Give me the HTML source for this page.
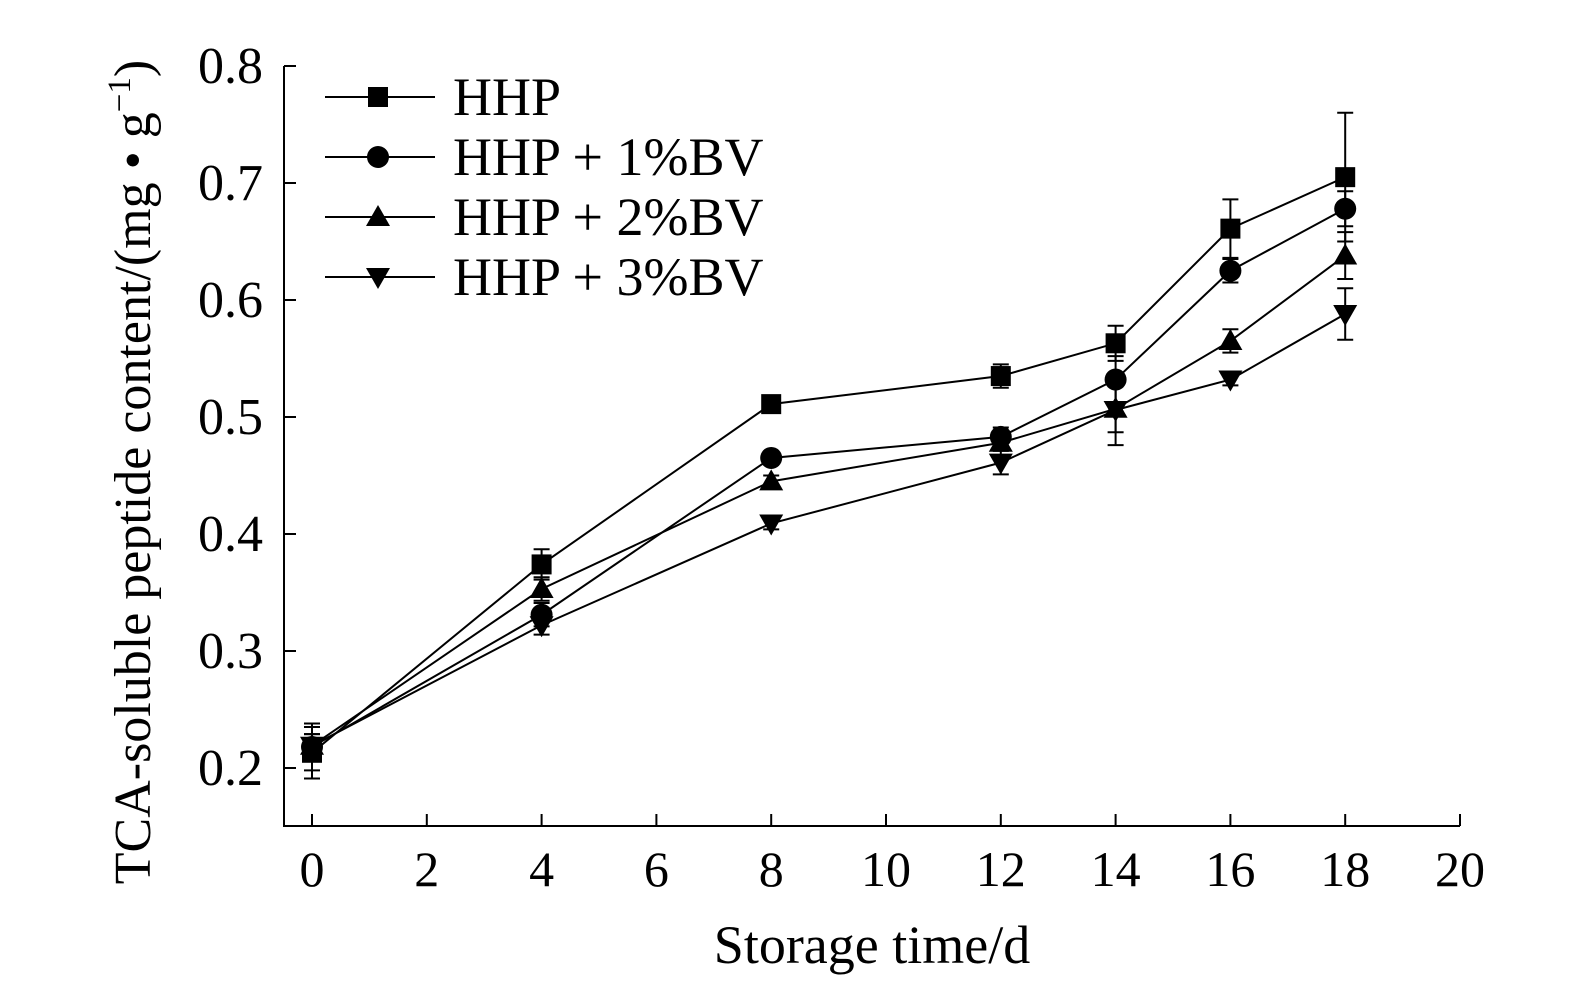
<!DOCTYPE html>
<html><head><meta charset="utf-8"><style>
body{margin:0;background:#fff;}
svg{display:block;font-family:"Liberation Serif",serif;}
</style></head><body>
<svg id="chart" width="1575" height="990" viewBox="0 0 1575 990">
<g id="axes"></g><g id="series"></g><g id="legend"></g>
<text x="872" y="963" font-size="54" text-anchor="middle">Storage time/d</text>
<text transform="translate(150,472) rotate(-90)" font-size="52" text-anchor="middle">TCA-soluble peptide content/(mg • g<tspan font-size="33" dy="-20">−1</tspan><tspan dy="20">)</tspan></text>
</svg>
<script>
const days=[0,4,8,12,14,16,18];
const seriesNames=["HHP","HHP + 1%BV","HHP + 2%BV","HHP + 3%BV"];
const hhp=[0.213,0.374,0.511,0.535,0.563,0.661,0.705];
const bv1=[0.218,0.331,0.465,0.483,0.532,0.625,0.678];
const bv2=[0.219,0.353,0.445,0.478,0.507,0.565,0.638];
const bv3=[0.219,0.322,0.409,0.461,0.506,0.532,0.588];
const errHhp=[0.022,0.013,0.005,0.01,0.015,0.025,0.055];
const errBv1=[0.02,0.01,0.005,0.008,0.02,0.01,0.015];
const errBv2=[0.01,0.01,0.005,0.005,0.02,0.01,0.02];
const errBv3=[0.01,0.008,0.005,0.01,0.03,0.005,0.022];
const xTicks=[0,2,4,6,8,10,12,14,16,18,20];
const yTicks=[0.2,0.3,0.4,0.5,0.6,0.7,0.8];
const NS="http://www.w3.org/2000/svg";
const X=v=>312+v*57.4;
const Y=v=>768-(v-0.2)*1170;
function mk(t,a,p){const e=document.createElementNS(NS,t);for(const k in a)e.setAttribute(k,a[k]);p.appendChild(e);return e;}
const axes=document.getElementById('axes');
let ax=mk('path',{d:`M284,66 V826 H1460`,fill:'none',stroke:'#000','stroke-width':2},axes);


xTicks.forEach(t=>{
 let l=mk('line',{x1:X(t),x2:X(t),y1:826,y2:814,stroke:'#000','stroke-width':2},axes);
 
 
 let s=mk('text',{x:X(t),y:886,'font-size':50,'text-anchor':'middle'},axes);s.textContent=t;
 
 
});
yTicks.forEach(t=>{
 let l=mk('line',{x1:284,x2:296,y1:Y(t),y2:Y(t),stroke:'#000','stroke-width':2},axes);
 
 
 let s=mk('text',{x:263,y:Y(t)+17,'font-size':52,'text-anchor':'end'},axes);s.textContent=t.toFixed(1);
 
 
});
function marker(kind,x,y,p){
 if(kind==0)return mk('rect',{x:x-10,y:y-10,width:20,height:20,fill:'#000'},p);
 if(kind==1)return mk('circle',{cx:x,cy:y,r:11,fill:'#000'},p);
 if(kind==2)return mk('path',{d:`M${x},${y-12} L${x+12},${y+9} L${x-12},${y+9}Z`,fill:'#000'},p);
 return mk('path',{d:`M${x},${y+12} L${x+12},${y-9} L${x-12},${y-9}Z`,fill:'#000'},p);
}
const all=[hhp,bv1,bv2,bv3],errs=[errHhp,errBv1,errBv2,errBv3];
const sg=document.getElementById('series');
all.forEach((vals,i)=>{
 const g=mk('g',{},sg);
 
 
 let ln=mk('polyline',{points:days.map((d,j)=>X(d)+','+Y(vals[j])).join(' '),fill:'none',stroke:'#000','stroke-width':2},g);
 
 
 days.forEach((d,j)=>{
  const x=X(d),y1=Y(vals[j]+errs[i][j]),y2=Y(vals[j]-errs[i][j]);
  let eb=mk('path',{d:`M${x},${y1}V${y2}M${x-8},${y1}H${x+8}M${x-8},${y2}H${x+8}`,stroke:'#000','stroke-width':2,fill:'none'},g);
  
  
  let m=marker(i,x,Y(vals[j]),g);
  
  
 });
});
const lg=document.getElementById('legend');
seriesNames.forEach((n,i)=>{
 const y=97+i*60;
 const g=mk('g',{},lg);
 
 
 mk('line',{x1:325,x2:435,y1:y,y2:y,stroke:'#000','stroke-width':2},g);
 marker(i,378,y,g);
 let t=mk('text',{x:453,y:y+18,'font-size':54},g);t.textContent=n;
});
</script>
</body></html>
